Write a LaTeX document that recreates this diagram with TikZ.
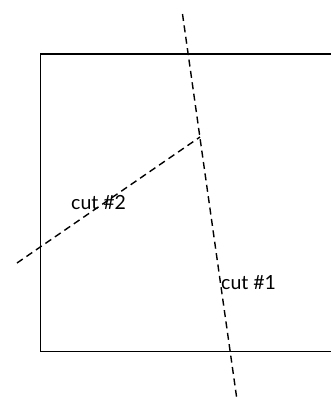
\documentclass[tikz,border=0pt]{standalone}
\usepackage{fontspec}
\setmainfont{Lato}
\begin{document}
\begin{tikzpicture}[x=1pt,y=-1pt,
  edge/.style={line width=1.4pt, black},
  cutline/.style={line width=1.4pt, dash pattern=on 7pt off 4.5pt},
  lbl/.style={font=\fontsize{19.5}{22}\selectfont, inner sep=0pt, anchor=west}]
\useasboundingbox (0,0) rectangle (331,400);
\clip (0,0) rectangle (331,400);
\coordinate (rtl) at (40.5,54);
\coordinate (rbr) at (345,351.5);
\draw[edge] (rtl) rectangle (rbr);
\coordinate (c1a) at (182.5,14);
\coordinate (c1b) at (237,400);
\coordinate (c2a) at (17,263);
\coordinate (c2b) at (200,137);
\draw[cutline] (c1a) -- (c1b);
\draw[cutline] (c2a) -- (c2b);
\node[lbl] (l2) at (71,203) {cut \#2};
\node[lbl] (l1) at (221,283) {cut \#1};
\end{tikzpicture}
\end{document}
